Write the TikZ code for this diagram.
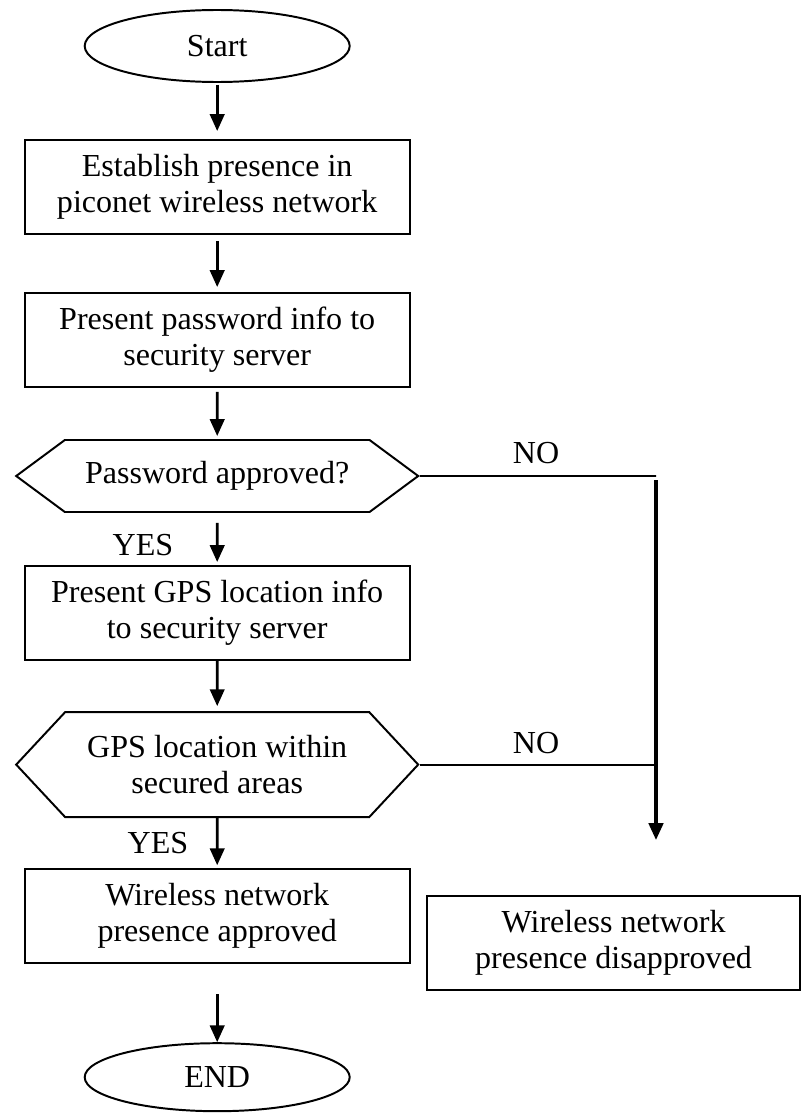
\documentclass[tikz,border=0pt]{standalone}
\usepackage{fontspec}
\setmainfont{Liberation Serif}
\usepackage{tikz}
\usetikzlibrary{arrows.meta,shapes,positioning}
\tikzstyle{arrow} = [line width=1.9pt,-{Triangle[length=0.42cm,width=0.36cm]}]
\tikzstyle{link} = [line width=1.4pt]
\tikzstyle{terminal} = [ellipse, minimum width=6.625cm, minimum height=1.8cm, text centered, draw, line width=1.4pt]
\tikzstyle{process} = [rectangle, minimum width=9.625cm, minimum height=2.35cm, align=center, draw, line width=1.4pt]
\tikzstyle{decision} = [signal, signal to=west and east, minimum width=10.05cm, minimum height=1.8cm, align=center, draw, line width=1.4pt]
\tikzstyle{branchlabel} = [inner sep=0pt]

\begin{document}
\begin{tikzpicture}[font=\fontsize{22.8pt}{25.6pt}\selectfont]
\useasboundingbox (0,0) rectangle (20.125,-27.825);
% Main column
\node (start) [terminal] at (5.43,-1.15) {Start};
\node (presence) [process, below of=start, node distance=3.525cm] {Establish presence in\\piconet wireless network};
\node (password) [process, below of=presence, node distance=3.825cm] {Present password info to\\security server};
\node (pwdok) [decision, signal pointer angle=73, below of=password, node distance=3.4cm] {Password approved?};
\node (gps) [process, below of=pwdok, node distance=3.425cm] {Present GPS location info\\to security server};
\node (gpsok) [decision, signal pointer angle=94, minimum height=2.625cm, below of=gps, node distance=3.79cm] {GPS location within\\secured areas};
\node (approved) [process, below of=gpsok, node distance=3.79cm] {Wireless network\\presence approved};
\node (end) [terminal, minimum height=1.7cm, below of=approved, node distance=4.025cm] {END};

% Rejected branch
\node (disapproved) [process, minimum width=9.325cm] at (15.34,-23.575) {Wireless network\\presence disapproved};
\coordinate (nocorner) at (16.4,-11.9);
\coordinate (noend) at (16.4,-21.0);

% Arrows down
\draw[arrow, shorten <=0.05cm, shorten >=0.2cm] (start) -- (presence);
\draw[arrow, shorten <=0.15cm, shorten >=0.125cm] (presence) -- (password);
\draw[arrow, shorten <=0.1cm, shorten >=0.075cm] (password) -- (pwdok);
\draw[arrow, shorten <=0.25cm, shorten >=0.075cm] (pwdok) -- (gps);
\draw[arrow, shorten >=0.125cm] (gps) -- (gpsok);
\draw[arrow, shorten >=0.075cm] (gpsok) -- (approved);
\draw[arrow, shorten <=0.75cm] (approved) -- (end);

% NO lines
\draw[link] (pwdok.east) -- (nocorner);
\draw[link] (gpsok.east) -- (gpsok.east -| nocorner);
\draw[arrow, line width=2.3pt, shorten <=0.1cm] (nocorner) -- (noend);

% Labels
\node (no1) [branchlabel] at (13.4,-11.325) {NO};
\node (no2) [branchlabel] at (13.4,-18.575) {NO};
\node (yes1) [branchlabel] at (3.575,-13.625) {YES};
\node (yes2) [branchlabel] at (3.95,-21.075) {YES};
\end{tikzpicture}
\end{document}
